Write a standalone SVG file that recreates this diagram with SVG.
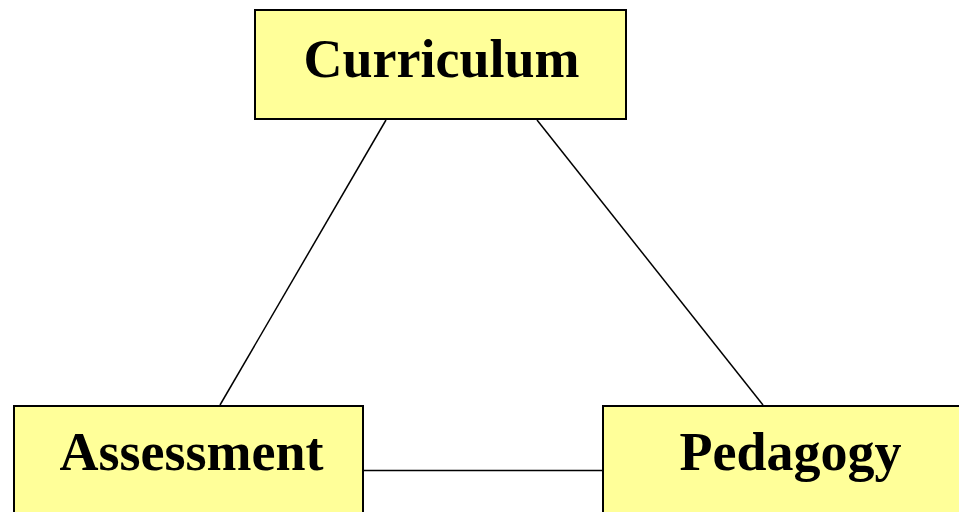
<svg xmlns="http://www.w3.org/2000/svg" width="959" height="512" viewBox="0 0 959 512">
<style>
.box{fill:#FFFF99;stroke:#000;stroke-width:2}
.lbl{font-family:"Liberation Serif","Times New Roman",serif;font-weight:bold;font-size:54px;fill:#000;text-anchor:middle}
.con{stroke:#000;stroke-width:1.5;fill:none}
</style>
<rect width="959" height="512" fill="#fff"/>
<g id="connectors">
<line class="con" x1="386" y1="120" x2="220" y2="405"/>
<line class="con" x1="537" y1="120" x2="763" y2="405"/>
<line class="con" x1="363" y1="470.5" x2="603" y2="470.5"/>
</g>
<g id="curriculum">
<rect class="box" x="255" y="10" width="371" height="109"/>
<text class="lbl" x="441.5" y="77">Curriculum</text>
</g>
<g id="assessment">
<rect class="box" x="14" y="406" width="349" height="110"/>
<text class="lbl" x="191.5" y="470">Assessment</text>
</g>
<g id="pedagogy">
<rect class="box" x="603" y="406" width="360" height="110"/>
<text class="lbl" x="790.5" y="470">Pedagogy</text>
</g>
</svg>
